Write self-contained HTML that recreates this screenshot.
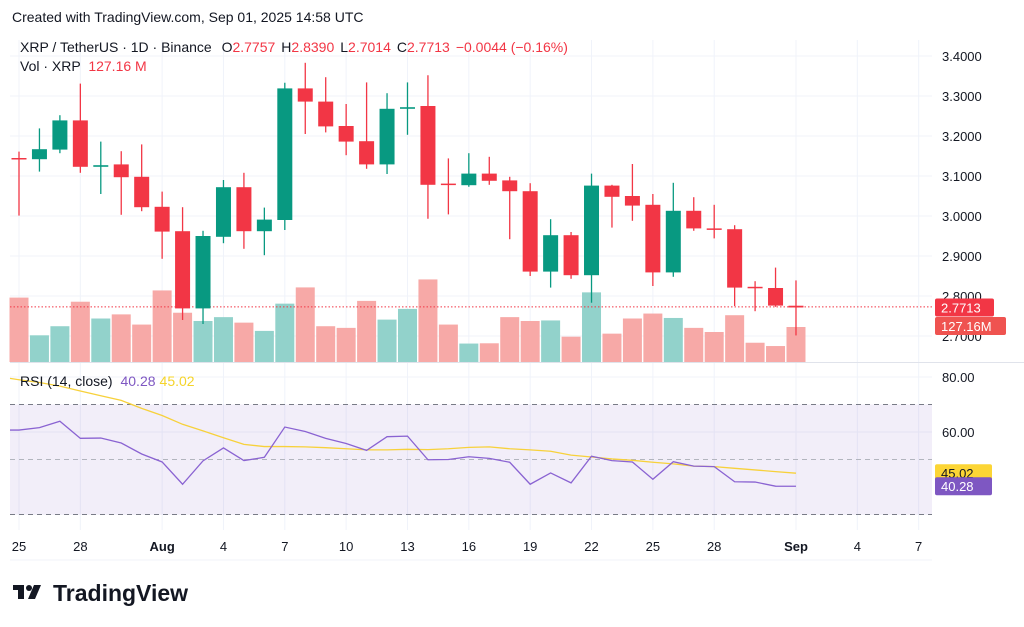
<!DOCTYPE html>
<html><head><meta charset="utf-8"><style>
html,body{margin:0;padding:0;background:#fff;}
svg{display:block;font-family:"Liberation Sans",sans-serif;}
</style></head><body>
<svg id="chart" width="1024" height="627" viewBox="0 0 1024 627">
<text x="12" y="22" font-size="14" fill="#131722">Created with TradingView.com, Sep 01, 2025 14:58 UTC</text>
<g id="grid"></g>
<rect x="10" y="404.5" width="922" height="110.3" fill="#7e57c2" fill-opacity="0.1"/>
<g id="rsidash"></g>
<g id="vol"></g>
<line x1="10" x2="932" y1="306.9" y2="306.9" stroke="#f23645" stroke-dasharray="1.5,2" stroke-width="1"/>
<g id="candles"></g>
<g id="rsi"></g>
<g id="axes"></g>
<line x1="10" x2="1024" y1="362.5" y2="362.5" stroke="#e0e3eb"/>
<line x1="10" x2="932" y1="560" y2="560" stroke="#f0f3fa"/>
<text x="20" y="52" font-size="14" fill="#131722">XRP / TetherUS · 1D · Binance <tspan dx="6">O</tspan><tspan fill="#f23645">2.7757</tspan><tspan dx="6">H</tspan><tspan fill="#f23645">2.8390</tspan><tspan dx="6">L</tspan><tspan fill="#f23645">2.7014</tspan><tspan dx="6">C</tspan><tspan fill="#f23645">2.7713</tspan><tspan dx="6" fill="#f23645">−0.0044 (−0.16%)</tspan></text>
<text x="20" y="71" font-size="14" fill="#131722">Vol · XRP <tspan dx="4" fill="#f23645">127.16 M</tspan></text>
<text x="20" y="386" font-size="14" fill="#131722">RSI (14, close) <tspan dx="4" fill="#7e57c2">40.28</tspan><tspan dx="4" fill="#f5d42a">45.02</tspan></text>
<g>
<rect x="13" y="585" width="11" height="5" fill="#131722"/><rect x="18" y="585" width="6" height="14" fill="#131722"/>
<circle cx="29" cy="588" r="3" fill="#131722"/><polygon points="34,585 41,585 35,599 28,599" fill="#131722"/>
<text x="53" y="601" font-size="23" font-weight="bold" fill="#131722">TradingView</text>
</g>
</svg>
<script>
const opens=[3.145,3.142,3.166,3.239,3.123,3.129,3.098,3.023,2.962,2.769,2.948,3.072,2.962,2.990,3.319,3.286,3.225,3.187,3.129,3.268,3.275,3.081,3.077,3.106,3.089,3.062,2.861,2.952,2.852,3.076,3.050,3.028,2.859,3.013,2.969,2.967,2.823,2.820,2.7757];
const highs=[3.161,3.219,3.252,3.331,3.186,3.162,3.179,3.061,3.022,2.963,3.090,3.108,3.021,3.333,3.383,3.347,3.280,3.334,3.307,3.334,3.352,3.144,3.157,3.148,3.098,3.082,2.992,2.960,3.106,3.078,3.130,3.055,3.083,3.047,3.028,2.977,2.837,2.871,2.8390];
const lows=[3.001,3.111,3.157,3.108,3.055,3.003,3.012,2.893,2.740,2.730,2.932,2.918,2.902,2.965,3.205,3.209,3.152,3.118,3.105,3.203,2.993,3.004,3.073,3.078,2.942,2.850,2.821,2.843,2.783,2.971,2.988,2.825,2.848,2.963,2.944,2.775,2.762,2.773,2.7014];
const closes=[3.143,3.167,3.239,3.123,3.127,3.097,3.022,2.961,2.769,2.950,3.072,2.962,2.991,3.319,3.286,3.224,3.186,3.129,3.268,3.272,3.078,3.079,3.106,3.088,3.062,2.861,2.952,2.852,3.076,3.048,3.026,2.859,3.013,2.969,2.967,2.821,2.821,2.776,2.7713];
const volumes=[234,97,130,219,158,173,136,260,179,149,163,143,113,212,271,130,124,222,154,193,300,136,67,68,163,149,151,92,253,103,158,176,160,124,109,170,70,58,127.16];
const rsiValues=[60.7,61.6,63.9,57.7,57.8,56,52,49.1,41,49.5,54.2,49.6,50.8,61.8,60.2,57.7,55.8,53.3,58.3,58.5,49.9,50,51,50.4,49,41,45.1,41.5,51.2,49.6,49.1,42.8,49.2,47.6,47.4,41.9,41.8,40.3,40.28];
const rsiMA=[79,78,76.7,74.9,73.2,71.5,68.6,66,62.8,60.4,57.9,55.5,54.7,54.7,54.6,54.3,53.9,53.5,53.5,53.7,53.6,53.9,54.4,54.6,53.9,53.5,53,51.6,50.9,50.2,49.7,49,48.4,47.6,47.4,46.8,46.2,45.6,45.02];
const priceTicks=[3.4,3.3,3.2,3.1,3.0,2.9,2.8,2.7];
const rsiTicks=[80,60];
const rsiLevels=[70,50,30];
const dateLabels=["25","28","Aug","4","7","10","13","16","19","22","25","28","Sep","4","7"];
const dateIndex=[0,3,7,10,13,16,19,22,25,28,31,34,38,41,44];

const NS="http://www.w3.org/2000/svg";
const X=i=>19+i*20.447;
const Y=p=>56+(3.4-p)*400;
const VY=v=>362-v*35/127.16;
const RY=v=>377+(80-v)*2.75;
function mk(tag,attrs,parent){const e=document.createElementNS(NS,tag);for(const k in attrs)e.setAttribute(k,attrs[k]);parent.appendChild(e);return e;}
const G=id=>document.getElementById(id);
const UP="#089981",DN="#f23645";

dateIndex.forEach((d,i)=>{
  const l=mk('line',{x1:X(d),x2:X(d),y1:40,y2:530,stroke:'#f0f3fa'},G('grid'));
  
  
  const t=mk('text',{x:X(d),y:551,'font-size':13,fill:'#131722','text-anchor':'middle','font-weight':dateLabels[i]==='Aug'||dateLabels[i]==='Sep'?'bold':'normal'},G('axes'));
  t.textContent=dateLabels[i];
  
  
});
priceTicks.forEach(p=>{
  const l=mk('line',{x1:10,x2:932,y1:Y(p),y2:Y(p),stroke:'#f0f3fa'},G('grid'));
  
  
  const t=mk('text',{x:942,y:Y(p)+5,'font-size':13,fill:'#131722'},G('axes'));
  t.textContent=p.toFixed(4);
  
  
});
rsiTicks.forEach(v=>{
  const l=mk('line',{x1:10,x2:932,y1:RY(v),y2:RY(v),stroke:'#f0f3fa'},G('grid'));
  
  
  const t=mk('text',{x:942,y:RY(v)+5,'font-size':13,fill:'#131722'},G('axes'));
  t.textContent=v.toFixed(2);
  
  
});
rsiLevels.forEach(v=>{
  const l=mk('line',{x1:10,x2:932,y1:RY(v),y2:RY(v),stroke:v===50?'#b2b5be':'#787b86','stroke-dasharray':'5,4'},G('rsidash'));
  
  
});
volumes.forEach((v,i)=>{
  const up=closes[i]>=opens[i];
  const r=mk('rect',{x:X(i)-9.5,y:VY(v),width:19,height:362-VY(v),fill:up?'#92d2cb':'#f7a9a7'},G('vol'));
  
  
});
opens.forEach((o,i)=>{
  const c=closes[i],up=c>=o,col=up?UP:DN;
  const w=mk('line',{x1:X(i),x2:X(i),y1:Y(highs[i]),y2:Y(lows[i]),stroke:col,'stroke-width':1.3},G('candles'));
  
  
  const top=Y(Math.max(o,c)),h=Math.max(1.5,Math.abs(Y(o)-Y(c)));
  const b=mk('rect',{x:X(i)-7.5,y:top,width:15,height:h,fill:col},G('candles'));
  
  
});
const pts=a=>a.map((v,i)=>X(i)+','+RY(v)).join(' ');
const ma=mk('polyline',{points:'10,'+RY(79.5)+' '+pts(rsiMA),fill:'none',stroke:'#f7d13b','stroke-width':1.3},G('rsi'));


const rl=mk('polyline',{points:'10,'+RY(60.7)+' '+pts(rsiValues),fill:'none',stroke:'#8a63d2','stroke-width':1.3},G('rsi'));


function badge(y,w,bg,fg,txt,name){
  const g=mk('g',{},G('axes'));
  
  
  mk('rect',{x:935,y:y-9,width:w,height:18,rx:2,fill:bg},g);
  const t=mk('text',{x:941,y:y+5,'font-size':13,fill:fg},g);t.textContent=txt;
}
badge(Y(closes[closes.length-1]),59,'#f23645','#fff','2.7713','last-price-badge');
badge(326,71,'#ef5350','#fff','127.16M','volume-badge');
badge(RY(rsiMA[rsiMA.length-1]),57,'#fcd535','#131722','45.02','rsi-ma-badge');
badge(RY(rsiValues[rsiValues.length-1]),57,'#7e57c2','#fff','40.28','rsi-badge');
</script>
</body></html>
